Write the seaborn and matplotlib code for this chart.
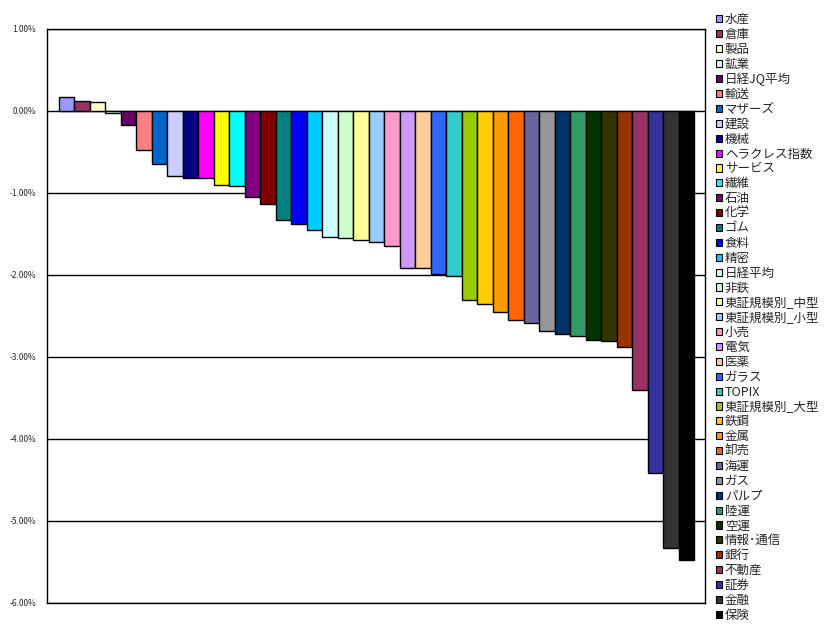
import matplotlib
matplotlib.use("Agg")
import matplotlib.pyplot as plt
import matplotlib.ticker as mticker
import seaborn as sns
import pandas as pd

# Sector returns (%), sorted from best to worst
categories = ["水産", "倉庫", "製品", "鉱業", "日経JQ平均", "輸送", "マザーズ", "建設", "機械",
              "ヘラクレス指数", "サービス", "繊維", "石油", "化学", "ゴム", "食料", "精密", "日経平均",
              "非鉄", "東証規模別_中型", "東証規模別_小型", "小売", "電気", "医薬", "ガラス", "TOPIX",
              "東証規模別_大型", "鉄鋼", "金属", "卸売", "海運", "ガス", "パルプ", "陸運", "空運",
              "情報･通信", "銀行", "不動産", "証券", "金融", "保険"]
values = [0.17, 0.12, 0.11, -0.02, -0.17, -0.48, -0.65, -0.79, -0.82,
          -0.82, -0.90, -0.92, -1.05, -1.13, -1.33, -1.38, -1.45, -1.54,
          -1.55, -1.57, -1.60, -1.65, -1.92, -1.92, -1.99, -2.01,
          -2.30, -2.35, -2.45, -2.55, -2.59, -2.68, -2.72, -2.74, -2.79,
          -2.80, -2.88, -3.40, -4.42, -5.33, -5.48]
colors = ["#9999FF", "#993366", "#FFFFCC", "#CCFFFF", "#660066", "#FF8080", "#0066CC", "#CCCCFF",
          "#000080", "#FF00FF", "#FFFF00", "#00FFFF", "#800080", "#800000", "#008080", "#0000FF",
          "#00CCFF", "#CCFFFF", "#CCFFCC", "#FFFF99", "#99CCFF", "#FF99CC", "#CC99FF", "#FFCC99",
          "#3366FF", "#33CCCC", "#99CC00", "#FFCC00", "#FF9900", "#FF6600", "#666699", "#969696",
          "#003366", "#339966", "#003300", "#333300", "#993300", "#993366", "#333399", "#333333",
          "#000000"]

df = pd.DataFrame({"sector": categories, "ret": values})

sns.set_style("white")
plt.rcParams["font.family"] = ["Noto Sans CJK JP", "DejaVu Sans"]

fig = plt.figure(figsize=(8.3, 6.26), dpi=100)
ax = fig.add_axes([47 / 830, 1 - 603 / 626, 658 / 830, 574 / 626])

sns.barplot(data=df, x="sector", y="ret", hue="sector", palette=colors, saturation=1,
            width=1.0, edgecolor="black", linewidth=1, legend=True, ax=ax)

ax.set_ylim(-6, 1)
ax.set_xlim(-1.275, 41.21)
ax.yaxis.set_major_locator(mticker.MultipleLocator(1))
ax.yaxis.set_major_formatter(mticker.FuncFormatter(lambda v, p: f"{v:.2f}%"))
ax.grid(axis="y", color="black", linewidth=1)
ax.set_axisbelow(True)
ax.set_xticks([])
ax.set_xlabel("")
ax.set_ylabel("")
ax.tick_params(axis="y", labelsize=6, length=0, pad=8)
for s in ax.spines.values():
    s.set_color("black")
    s.set_linewidth(1)

handles, labels = ax.get_legend_handles_labels()
ax.get_legend().remove()
leg = fig.legend(handles, labels, loc="upper left", bbox_to_anchor=(716 / 830, 1 - 13 / 626),
                 frameon=False, fontsize=9, handlelength=0.5, handleheight=0.5,
                 handletextpad=0.2, labelspacing=0.15, borderaxespad=0, borderpad=0)
for h in leg.legend_handles:
    h.set_edgecolor("black")
    h.set_linewidth(0.8)

fig.savefig("out.png", dpi=100)
